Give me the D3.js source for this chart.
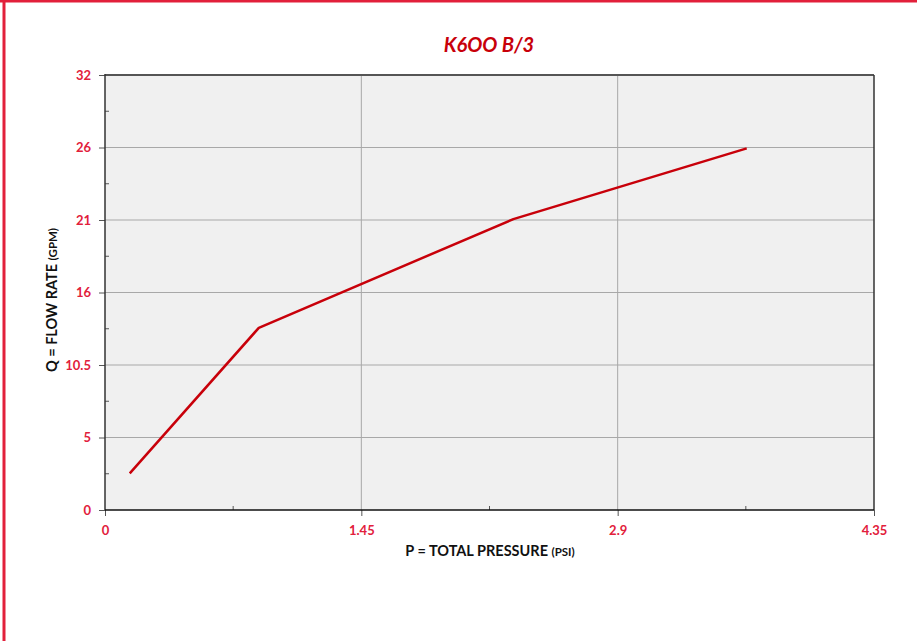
<!DOCTYPE html>
<html>
<head>
<meta charset="utf-8">
<script src="https://cdn.jsdelivr.net/npm/d3@7"></script>
<style>
  body { margin: 0; background: #fff; }
  svg { display: block; font-family: Lato, "Open Sans", sans-serif; }
</style>
</head>
<body>
<svg id="canvas" width="917" height="641"></svg>
<script>
// chart data
let pressure = [0.14, 0.87, 2.31, 3.63];
let flow = [2.7, 13.4, 21.4, 26.6];
let xTicks = [0, 1.45, 2.9, 4.35];
let xTickLabels = ["0", "1.45", "2.9", "4.35"];
let yTicks = [0, 32 / 6, 64 / 6, 16, 128 / 6, 160 / 6, 32];
let yTickLabels = ["0", "5", "10.5", "16", "21", "26", "32"];

let canvas = d3.select("#canvas");
let plotLeft = 105, plotRight = 874, plotTop = 75, plotBottom = 510;

let x = d3.scaleLinear().domain([0, 4.35]).range([plotLeft, plotRight]);
let y = d3.scaleLinear().domain([0, 32]).range([plotBottom, plotTop]);

// page border
canvas.append("line").attr("x1", 0).attr("x2", 917).attr("y1", 1).attr("y2", 1)
  .attr("stroke", "#e2203b").attr("stroke-width", 3);
canvas.append("line").attr("x1", 4).attr("x2", 4).attr("y1", 0).attr("y2", 641)
  .attr("stroke", "#e2203b").attr("stroke-width", 3);

// plot background
canvas.append("rect").attr("x", plotLeft).attr("y", plotTop)
  .attr("width", plotRight - plotLeft).attr("height", plotBottom - plotTop).attr("fill", "#f0f0f0");

// grid
canvas.append("g").selectAll("line").data(yTicks.slice(1, -1)).enter().append("line")
  .attr("x1", plotLeft).attr("x2", plotRight).attr("y1", d => y(d)).attr("y2", d => y(d))
  .attr("stroke", "#a8a8a8").attr("stroke-width", 1);
canvas.append("g").selectAll("line").data(xTicks.slice(1, -1)).enter().append("line")
  .attr("y1", plotTop).attr("y2", plotBottom).attr("x1", d => x(d)).attr("x2", d => x(d))
  .attr("stroke", "#a8a8a8").attr("stroke-width", 1);

// minor ticks (inside)
let yMinor = yTicks.slice(0, -1).map((d, i) => (d + yTicks[i + 1]) / 2);
let xMinor = xTicks.slice(0, -1).map((d, i) => (d + xTicks[i + 1]) / 2);
canvas.append("g").selectAll("line").data(yMinor).enter().append("line")
  .attr("x1", plotLeft).attr("x2", plotLeft + 4).attr("y1", d => y(d)).attr("y2", d => y(d))
  .attr("stroke", "#555");
canvas.append("g").selectAll("line").data(xMinor).enter().append("line")
  .attr("y1", plotBottom).attr("y2", plotBottom - 4).attr("x1", d => x(d)).attr("x2", d => x(d))
  .attr("stroke", "#555");

// axes
let yAxis = d3.axisLeft(y).tickValues(yTicks).tickSize(6).tickPadding(8)
  .tickFormat((d, i) => yTickLabels[i]);
let xAxis = d3.axisBottom(x).tickValues(xTicks).tickSize(6).tickPadding(10)
  .tickFormat((d, i) => xTickLabels[i]);

let gy = canvas.append("g").attr("transform", `translate(${plotLeft},0)`).call(yAxis);
let gx = canvas.append("g").attr("transform", `translate(0,${plotBottom})`).call(xAxis);
[gx, gy].forEach(g => {
  g.select(".domain").remove();
  g.selectAll(".tick line").attr("stroke", "#555");
  g.selectAll(".tick text").attr("fill", "#e2203b").attr("font-size", 13)
    .attr("font-weight", "bold").attr("font-family", "Lato, sans-serif");
});

// frame
canvas.append("line").attr("x1", plotLeft).attr("x2", plotRight).attr("y1", plotTop).attr("y2", plotTop)
  .attr("stroke", "#555").attr("stroke-width", 2);
canvas.append("line").attr("x1", plotRight).attr("x2", plotRight).attr("y1", plotTop).attr("y2", plotBottom)
  .attr("stroke", "#333").attr("stroke-width", 1.5);
canvas.append("line").attr("x1", plotLeft).attr("x2", plotLeft).attr("y1", plotTop - 1).attr("y2", plotBottom)
  .attr("stroke", "#333").attr("stroke-width", 1.5);
canvas.append("line").attr("x1", plotLeft).attr("x2", plotRight).attr("y1", plotBottom).attr("y2", plotBottom)
  .attr("stroke", "#111").attr("stroke-width", 1.5);

// the curve
let line = d3.line().x(d => x(d[0])).y(d => y(d[1]));
canvas.append("path").datum(pressure.map((p, i) => [p, flow[i]]))
  .attr("d", line).attr("fill", "none").attr("stroke", "#c8000a")
  .attr("stroke-width", 2.5).attr("stroke-linejoin", "round");

// title
canvas.append("text").attr("x", 489).attr("y", 52).attr("text-anchor", "middle")
  .attr("fill", "#c8000a").attr("font-size", 20).attr("font-weight", "bold")
  .attr("font-style", "italic").text("K6OO B/3");

// axis titles
let xt = canvas.append("text").attr("x", 490).attr("y", 556).attr("text-anchor", "middle")
  .attr("fill", "#111").attr("font-size", 14.5).attr("font-weight", "bold");
xt.append("tspan").text("P = TOTAL PRESSURE ");
xt.append("tspan").attr("font-size", 11.5).text("(PSI)");

let yt = canvas.append("text").attr("transform", "translate(57,300) rotate(-90)")
  .attr("text-anchor", "middle").attr("fill", "#111").attr("font-size", 14.5)
  .attr("font-weight", "bold");
yt.append("tspan").text("Q = FLOW RATE ");
yt.append("tspan").attr("font-size", 11.5).text("(GPM)");
</script>
</body>
</html>
